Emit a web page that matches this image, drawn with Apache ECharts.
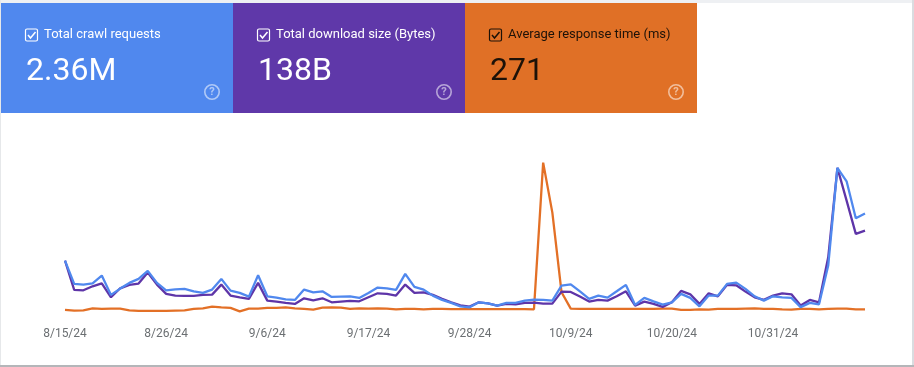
<!DOCTYPE html>
<html><head><meta charset="utf-8">
<style>html,body{margin:0;padding:0;background:#fff}#c{width:914px;height:367px}</style>
<script src="https://cdn.jsdelivr.net/npm/echarts@6/dist/echarts.min.js"></script>
</head><body><div id="c"></div>
<script>
const dates = ["8/15/24","8/16/24","8/17/24","8/18/24","8/19/24","8/20/24","8/21/24","8/22/24","8/23/24","8/24/24","8/25/24","8/26/24","8/27/24","8/28/24","8/29/24","8/30/24","8/31/24",
"9/1/24","9/2/24","9/3/24","9/4/24","9/5/24","9/6/24","9/7/24","9/8/24","9/9/24","9/10/24","9/11/24","9/12/24","9/13/24","9/14/24","9/15/24","9/16/24","9/17/24","9/18/24","9/19/24","9/20/24","9/21/24","9/22/24","9/23/24","9/24/24","9/25/24","9/26/24","9/27/24","9/28/24","9/29/24","9/30/24",
"10/1/24","10/2/24","10/3/24","10/4/24","10/5/24","10/6/24","10/7/24","10/8/24","10/9/24","10/10/24","10/11/24","10/12/24","10/13/24","10/14/24","10/15/24","10/16/24","10/17/24","10/18/24","10/19/24","10/20/24","10/21/24","10/22/24","10/23/24","10/24/24","10/25/24","10/26/24","10/27/24","10/28/24","10/29/24","10/30/24","10/31/24",
"11/1/24","11/2/24","11/3/24","11/4/24","11/5/24","11/6/24","11/7/24","11/8/24","11/9/24","11/10/24"];
const crawlRequests = [53,29.7,29,30.3,38,18.7,25,30.7,34.7,42.7,30.7,23.3,24.3,24.7,22.3,20.7,24,34.7,23,20.7,17,38.3,17.3,16,14.3,13.7,24,21.3,22.3,16.7,17,17.3,15.7,20.7,26,25.3,23.7,39.7,26.7,24,18,13.7,10.7,7.3,6.3,11.3,10.3,8,10.7,10.7,13,14,13.7,13,28,29.3,22.3,14.7,18,16,22.3,28.7,8.7,15.7,12.3,9,11.3,19.7,15.7,7.3,18,18,29.7,31,24.7,17.3,13,17.3,16.3,15.7,6.5,10.7,9.3,48,145.7,132.3,95.3,100];
const downloadSize = [53,23.7,23.3,27.3,30.3,16.3,25.3,28.7,30,41,29,19.7,18,17.7,17.7,18.7,19,29,18,16.3,14.7,30.7,13,12,10.7,9.7,15.3,13.3,15.3,11.3,12,12.7,12.3,16.3,20.3,19.7,18,29,20.7,21.3,18.7,14.7,11.3,8.3,7,11.3,10.3,8,9.7,9.3,10.7,11,10,10,22,21.7,17,12,13.7,13,17.3,22.3,8,12,9.7,6.7,11.3,22.7,19.3,9.7,20.3,17.3,28.7,28.3,22,16.3,13.7,18,20.3,19.3,8,13.7,11.3,56.3,145.7,113,79.7,83];
const responseTime = [3.7,3,3.3,5.3,4.7,5,5,3.3,2.7,2.7,2.7,2.7,3,3.3,4.7,5.3,7,6.3,5.7,2.3,5,5,5.7,5.7,6.3,5.3,4.7,4,6,6.3,6,4.7,5.3,5,5.3,5,4.3,4.7,4.7,4.3,4.7,4.7,4.5,4.5,4.5,4.5,4.5,4.5,4.5,4.5,4.5,4.3,151,101,21.3,5,4.7,4.7,4.7,4.7,4.7,4.7,4.7,4.7,4.7,5,5,3.7,3.7,4.3,4,4.7,4.7,4.7,5,5.3,4.7,4.7,4.3,4,4.7,4.7,4.3,4.7,5,5,4.3,4.3];
const cardLabels = ["Total crawl requests","Total download size (Bytes)","Average response time (ms)"];
const cardValues = ["2.36M","138B","271"];
const cardColors = ["#5088ee","#5f38a9","#e07026"];
const lineColors = ["#e37026","#5e35a8","#5088ee"];

const gfx = [
  {type:'rect',z:0,shape:{x:0,y:0,width:914,height:3},style:{fill:'#eef0f3'}},
  {type:'rect',z:0,shape:{x:0,y:0,width:1,height:367},style:{fill:'#e6e8ea'}},
  {type:'rect',z:0,shape:{x:912,y:0,width:2,height:367},style:{fill:'#dadce0'}},
  {type:'rect',z:0,shape:{x:0,y:365,width:914,height:2},style:{fill:'#b4b6b9'}}
];
cardLabels.forEach((lab,i)=>{
  const x0 = 1+232*i, dark = i===2, fg = dark?'#1d1208':'#ffffff';
  gfx.push({type:'rect',z:1,shape:{x:x0,y:3,width:232,height:110},style:{fill:cardColors[i]}});
  gfx.push({type:'rect',z:2,shape:{x:x0+24.5,y:29,width:12,height:12,r:1.5},style:{fill:'none',stroke:fg,lineWidth:1.2}});
  gfx.push({type:'polyline',z:2,shape:{points:[[x0+27,35],[x0+29.5,38],[x0+34.5,32]]},style:{fill:'none',stroke:fg,lineWidth:1.5}});
  gfx.push({type:'text',z:2,style:{x:x0+43,y:35,text:lab,fill:fg,font:'400 13px Roboto',textVerticalAlign:'middle'}});
  gfx.push({type:'text',z:2,style:{x:x0+25,y:72,text:cardValues[i],fill:fg,font:'400 32px Roboto',textVerticalAlign:'middle'}});
  gfx.push({type:'circle',z:2,shape:{cx:x0+211,cy:92,r:7.2},style:{fill:'none',stroke:'rgba(255,255,255,0.55)',lineWidth:1.6}});
  gfx.push({type:'text',z:2,style:{x:x0+211,y:92.5,text:'?',fill:'rgba(255,255,255,0.55)',font:'700 11px Roboto',textAlign:'center',textVerticalAlign:'middle'}});
});

const chart = echarts.init(document.getElementById('c'));
const mk = (name,data,color)=>({name,type:'line',data,symbol:'none',smooth:false,lineStyle:{width:2.3,color},itemStyle:{color},silent:true,animation:false});
chart.setOption({
  animation:false,
  grid:{left:65,right:49,top:113.6,height:200},
  xAxis:{type:'category',data:dates,boundaryGap:false,axisLine:{show:false},axisTick:{show:false},
    axisLabel:{interval:10,margin:14.5,color:'#6b6f72',fontFamily:'Roboto',fontSize:12}},
  yAxis:{type:'value',min:0,max:200,show:false,splitLine:{show:false}},
  series:[mk(cardLabels[2],responseTime,lineColors[0]),mk(cardLabels[1],downloadSize,lineColors[1]),mk(cardLabels[0],crawlRequests,lineColors[2])],
  graphic:gfx
});
</script></body></html>
